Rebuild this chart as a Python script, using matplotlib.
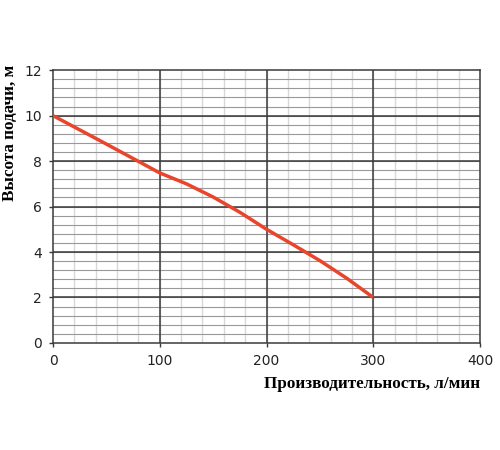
import matplotlib.pyplot as plt
import numpy as np

flow = [0, 50, 100, 125, 150, 175, 200, 225, 250, 275, 300]
head = [10, 8.75, 7.48, 7.0, 6.42, 5.75, 5.0, 4.32, 3.62, 2.85, 2.0]

x_ticks = [0, 100, 200, 300, 400]
y_ticks = [0, 2, 4, 6, 8, 10, 12]

fig = plt.figure(figsize=(5, 4.5), dpi=100)
ax = fig.add_axes([0.106, 0.238, 0.854, 0.606])

ax.set_xlim(0, 400)
ax.set_ylim(0, 12)

# minor grid
for xv in np.arange(20, 400, 20):
    ax.axvline(xv, color='#d8d8d8', lw=1, zorder=1)
for yv in np.arange(0.4, 12, 0.4):
    ax.axhline(yv, color='#999999', lw=0.8, zorder=1)
# major grid
for xv in x_ticks[1:-1]:
    ax.axvline(xv, color='#3a3a3a', lw=1.1, zorder=2)
for yv in y_ticks[1:-1]:
    ax.axhline(yv, color='#3a3a3a', lw=1.1, zorder=2)

ax.plot(flow, head, color='#e8452c', lw=2.5, zorder=3, solid_capstyle='butt',
        solid_joinstyle='round')

for s in ax.spines.values():
    s.set_color('#3a3a3a')
    s.set_linewidth(1.1)

ax.set_xticks(x_ticks)
ax.set_yticks(y_ticks)
ax.tick_params(length=3, width=1, color='#3a3a3a', labelsize=10,
               labelcolor='#222222', pad=5)

ax.set_xlabel('Производительность, л/мин', fontsize=12.3, fontweight='bold',
              family='Liberation Serif', loc='right', labelpad=6)
ax.set_ylabel('Высота подачи, м', fontsize=12.3, fontweight='bold',
              family='Liberation Serif')
ax.yaxis.set_label_coords(-0.083, 0.77)

fig.savefig('out.png', dpi=100)
